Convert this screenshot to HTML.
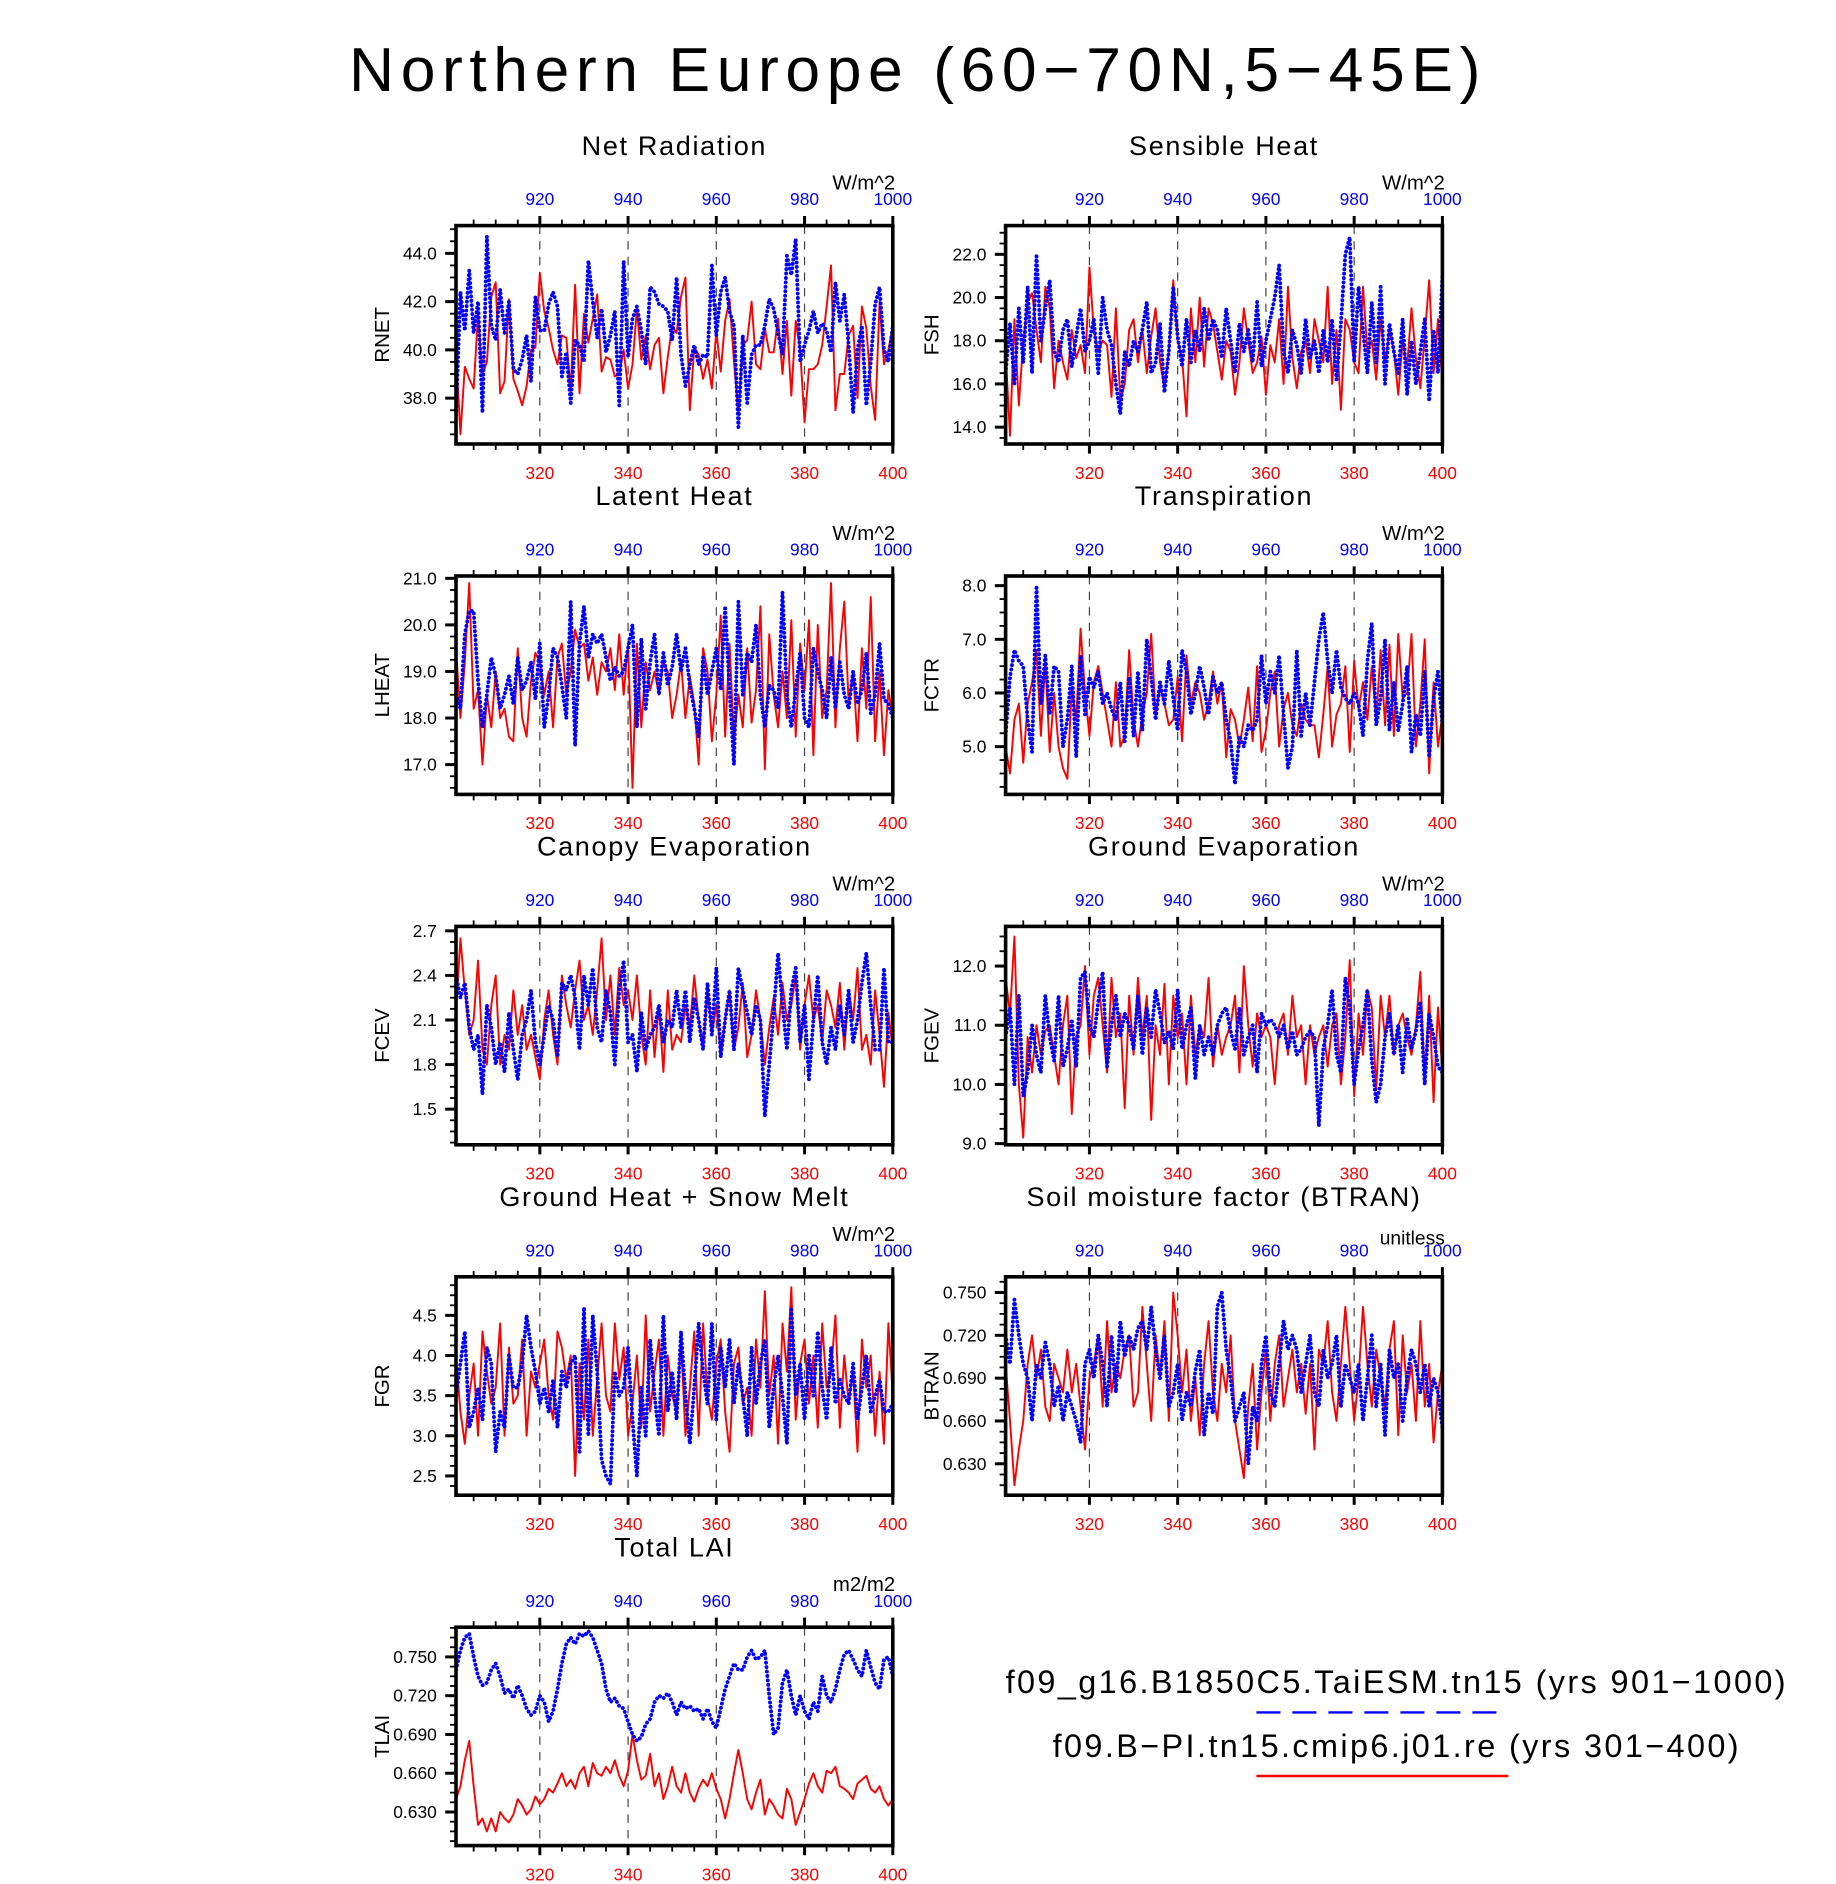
<!DOCTYPE html>
<html><head><meta charset="utf-8"><style>
html,body{margin:0;padding:0;background:#fff}
svg{display:block}
text{font-family:"Liberation Sans",sans-serif}
</style></head><body>
<svg id="fig" width="1836" height="1884" viewBox="0 0 1530 1570" xmlns="http://www.w3.org/2000/svg">
<text x="765" y="76" text-anchor="middle" font-size="52" fill="#000" letter-spacing="5.5">Northern Europe (60−70N,5−45E)</text>
<g>
<text x="1164" y="1411" text-anchor="middle" font-size="27" letter-spacing="2">f09_g16.B1850C5.TaiESM.tn15 (yrs 901−1000)</text>
<line x1="1047" y1="1427" x2="1257" y2="1427" stroke="#0000ff" stroke-width="2" stroke-dasharray="20 10"/>
<text x="1164" y="1464" text-anchor="middle" font-size="27" letter-spacing="2">f09.B−PI.tn15.cmip6.j01.re (yrs 301−400)</text>
<line x1="1047" y1="1480" x2="1257" y2="1480" stroke="#ff0000" stroke-width="2"/>
</g>
</svg>
<script>
// ---- data (years 301-400 red, 901-1000 blue) ----
const redYears = [301, 400];
const blueYears = [901, 1000];
const bottomTickLabels = ["320","340","360","380","400"];
const topTickLabels = ["920","940","960","980","1000"];

const rnetRed = [40.0,36.5,39.3,38.8,38.4,41.5,39.0,39.5,42.2,42.8, 38.2,38.7,42.1,38.8,38.3,37.7,38.5,40.0,40.1,43.2, 41.6,40.9,40.0,39.4,40.6,40.5,38.3,42.7,38.2,41.5, 40.3,41.3,42.3,39.1,39.7,39.6,38.9,39.0,40.0,38.4, 39.4,41.7,39.6,40.6,39.2,40.2,40.5,38.2,39.7,41.0, 40.7,42.2,43.0,37.5,40.1,39.8,38.8,39.6,38.4,40.8, 39.1,41.2,42.1,39.5,37.4,40.2,40.4,42.0,39.4,39.2, 40.9,39.9,39.9,41.3,39.0,41.2,38.1,41.2,40.0,37.0, 39.2,39.2,39.4,40.2,41.8,43.5,37.5,39.0,39.0,40.6, 41.0,38.0,41.8,40.9,38.5,37.1,42.0,39.4,40.0,41.0];
const rnetBlue = [37.3,42.4,40.8,43.3,40.7,42.0,37.4,44.7,41.0,40.4, 42.5,40.7,42.0,39.2,39.0,39.6,40.6,38.7,42.2,40.8, 40.8,41.9,42.4,41.8,38.9,39.9,37.8,40.4,40.2,39.5, 43.7,42.0,40.5,41.7,39.9,40.6,41.6,37.7,43.7,39.7, 41.3,41.8,40.8,39.4,42.6,42.4,41.9,41.8,41.6,40.4, 43.0,39.8,38.5,39.4,40.2,39.4,39.8,39.7,43.5,40.6, 42.4,43.0,41.6,41.0,36.8,40.6,37.8,39.8,40.2,40.2, 41.0,42.1,41.7,40.7,39.8,43.9,43.1,44.6,39.5,40.2, 40.8,41.6,40.7,41.1,40.8,39.9,42.8,41.2,42.3,40.2, 37.4,40.0,41.0,37.7,39.5,41.9,42.6,40.0,39.5,41.0];
const fshRed = [17.5,13.6,19.0,15.0,18.0,19.8,20.2,18.5,17.0,20.5, 19.5,15.8,18.0,17.0,16.2,18.5,17.2,17.8,16.5,21.4, 18.5,17.5,18.0,17.8,15.4,19.5,15.2,16.0,18.5,19.0, 17.0,18.5,16.5,18.2,19.5,17.0,15.8,17.5,20.8,18.0, 17.2,14.5,19.5,17.0,20.0,16.8,19.5,18.8,17.5,16.2, 18.0,17.5,15.5,17.0,19.5,18.0,16.5,17.0,18.2,15.5, 17.8,17.0,19.0,16.0,20.5,17.2,15.8,17.5,18.0,16.5, 19.0,18.0,17.0,20.5,16.0,18.5,14.8,19.0,18.5,17.0, 16.5,20.5,17.5,18.0,16.2,19.0,17.0,18.5,17.5,15.5, 18.0,16.8,19.5,17.2,15.8,18.2,20.8,16.5,19.0,16.0];
const fshBlue = [16.5,18.8,16.0,19.5,17.0,20.5,16.5,22.0,18.0,19.5, 20.8,17.5,17.0,18.5,19.0,16.8,18.2,19.5,17.5,18.0, 19.0,16.5,20.0,18.5,17.8,16.0,14.6,17.5,16.8,18.0, 17.5,18.5,19.8,16.5,17.0,18.8,15.6,17.5,20.5,18.2, 16.8,19.0,17.0,18.5,17.5,19.5,18.0,19.0,18.5,17.2, 19.5,18.0,16.5,18.8,17.5,18.5,17.0,19.8,16.8,18.0, 19.0,20.0,21.5,17.5,16.5,18.5,17.8,16.5,19.0,17.2, 18.0,16.5,18.5,17.0,19.0,16.2,18.8,22.0,22.8,17.0, 20.5,18.5,16.5,19.8,17.0,20.5,16.0,18.8,17.5,16.5, 19.0,15.5,18.0,16.0,17.5,19.0,15.2,18.5,16.5,21.0];
const lheatRed = [19.5,18.0,19.2,20.9,18.2,18.6,17.0,18.5,17.8,19.0, 18.0,18.2,17.6,17.5,19.5,18.0,17.6,18.8,19.4,19.2, 18.5,19.0,17.8,19.3,19.6,18.5,19.0,19.9,19.5,19.6, 18.8,19.3,18.5,19.2,19.0,19.5,18.6,19.8,18.5,19.6, 16.5,19.6,17.8,19.2,18.6,19.0,18.5,19.2,19.0,18.0, 18.5,19.2,18.0,18.9,18.3,17.0,19.5,19.0,17.5,18.5, 20.2,17.6,19.6,17.5,18.5,17.8,19.5,17.9,18.6,20.4, 16.9,19.8,18.5,17.8,19.0,18.0,20.1,17.6,19.6,18.6, 20.1,17.2,20.0,18.0,18.6,20.9,17.8,19.5,20.5,18.3, 19.0,17.5,19.5,18.2,20.6,17.5,19.0,17.2,18.6,18.0];
const lheatBlue = [18.5,18.2,19.8,20.3,20.3,18.8,17.8,18.5,19.3,18.9, 18.2,18.5,18.9,18.3,19.3,18.6,18.8,19.2,18.4,19.6, 17.8,18.5,19.5,19.3,18.7,18.0,20.5,17.4,19.6,20.4, 19.3,19.8,19.6,19.8,19.3,18.8,19.1,18.9,19.0,19.5, 20.0,17.8,19.7,18.2,19.2,19.8,18.5,19.4,18.7,19.1, 19.8,19.0,19.5,18.7,18.2,17.6,19.3,18.5,19.0,19.5, 18.6,20.4,18.6,17.0,20.5,18.5,19.4,19.2,20.0,18.5, 17.8,18.7,18.6,18.2,20.7,18.5,17.8,18.6,19.4,18.0, 17.8,19.5,19.0,18.6,18.0,19.3,18.2,19.2,18.5,18.2, 19.0,18.3,18.6,19.4,18.1,18.5,19.6,18.4,18.3,18.0];
const fctrRed = [5.0,4.5,5.5,5.8,4.7,5.8,6.2,6.8,5.2,6.6, 4.9,6.0,5.0,4.6,4.4,6.1,5.5,7.2,6.0,5.2, 6.2,6.5,6.0,5.5,5.0,6.2,5.0,5.2,6.8,5.5, 5.0,5.6,6.0,7.1,5.6,6.1,5.8,5.4,5.5,6.3, 5.1,6.7,5.8,6.2,6.0,5.5,5.8,6.4,5.8,6.2, 4.8,5.7,5.5,5.0,5.5,6.1,5.1,6.5,4.9,5.3, 6.0,6.4,5.0,5.7,6.0,5.4,5.2,5.8,5.5,5.4, 5.4,4.8,5.6,6.5,5.0,5.6,5.8,6.5,4.9,6.6, 5.7,6.2,5.5,6.5,5.5,6.8,5.4,6.9,5.2,7.1, 5.9,6.0,7.1,5.0,5.8,7.0,4.5,6.2,5.0,5.6];
const fctrBlue = [5.2,6.3,6.8,6.6,6.5,5.5,4.9,8.0,5.8,6.7, 5.6,6.5,6.4,5.0,5.5,6.5,4.8,6.7,5.6,6.3, 6.1,6.4,5.8,6.0,5.7,5.5,6.2,5.1,6.3,5.2, 6.4,5.3,7.0,6.3,5.5,6.2,5.8,6.6,5.9,5.3, 6.8,6.4,5.6,6.0,6.5,6.1,5.6,6.3,6.0,6.2, 5.5,5.1,4.3,5.2,5.0,5.4,5.3,5.5,6.7,5.8, 6.4,6.0,6.7,5.6,4.6,5.0,6.8,5.2,6.0,5.4, 6.2,7.0,7.5,6.6,6.0,6.8,6.1,5.9,5.8,6.0, 5.8,5.2,6.6,7.3,5.4,5.9,7.0,5.3,6.2,5.3, 5.8,6.5,4.9,5.6,5.2,6.4,4.8,5.9,6.4,5.4];
const fcevRed = [2.15,2.65,2.3,2.0,2.1,2.5,1.9,1.8,2.2,2.4, 1.8,2.0,1.9,2.3,2.0,2.2,1.9,2.0,1.85,1.7, 2.1,2.3,2.0,1.8,2.4,2.2,2.05,2.3,2.5,2.1, 2.2,2.0,2.3,2.65,2.1,2.4,2.0,2.45,2.2,2.3, 2.1,2.4,2.0,1.8,2.3,1.85,2.2,1.75,2.3,1.9, 2.0,1.95,2.2,2.05,2.4,2.1,1.9,2.3,2.0,2.2, 1.85,2.1,2.3,1.9,2.05,2.35,1.85,2.0,2.3,2.1, 1.8,2.05,2.25,2.0,2.35,2.1,2.2,2.4,1.9,2.2, 2.4,2.1,2.2,1.95,2.3,2.2,2.05,2.35,1.9,2.3, 2.1,2.45,1.9,2.0,1.8,2.3,2.0,1.65,2.15,1.9];
const fcevBlue = [2.4,2.25,2.35,2.05,1.9,2.0,1.6,2.2,2.05,1.8, 1.95,1.75,2.15,1.9,1.7,2.0,2.1,2.3,1.95,1.8, 2.0,2.2,2.1,1.85,2.35,2.3,2.4,2.25,1.9,2.4, 2.2,2.45,2.05,1.95,2.3,2.15,1.8,2.3,2.5,1.95, 2.0,1.75,2.15,1.9,2.0,2.05,2.2,1.95,2.1,2.05, 2.3,2.05,2.3,1.95,2.25,2.1,1.9,2.35,2.0,2.45, 1.85,2.1,2.3,1.9,2.45,2.3,2.15,2.0,2.2,2.1, 1.45,1.8,2.15,2.55,2.2,1.9,2.3,2.45,1.95,2.2, 1.7,2.1,2.4,1.95,1.8,2.05,1.9,2.2,2.0,2.3, 1.95,2.1,2.35,2.55,2.2,1.9,1.9,2.45,1.95,1.95];
const fgevRed = [11.8,11.2,12.5,10.0,9.1,10.8,10.2,11.0,10.5,10.9, 11.0,10.5,10.0,11.0,11.5,9.5,10.8,11.0,12.0,10.5, 11.5,11.8,11.0,10.2,11.8,10.8,11.2,9.6,11.5,10.5, 11.8,10.8,11.5,9.4,11.0,10.5,11.7,10.0,11.5,10.8, 11.2,10.0,11.5,10.5,11.0,10.8,11.8,10.3,11.0,10.5, 10.8,11.0,11.5,10.2,12.0,11.0,10.3,11.2,10.8,11.0, 10.8,10.0,11.0,11.2,10.5,11.5,10.8,11.0,10.0,11.0, 10.5,10.8,11.0,10.3,11.0,11.2,10.0,10.8,12.1,9.8, 11.2,10.5,11.6,11.3,9.9,11.5,10.8,11.5,10.5,11.0, 11.2,10.8,10.5,11.0,11.9,10.0,11.5,9.7,11.3,10.2];
const fgevBlue = [10.8,11.3,10.0,11.5,9.8,10.2,11.0,10.5,10.2,11.5, 10.8,10.4,11.5,10.3,10.6,11.1,10.3,11.8,11.9,11.0, 10.8,11.4,11.9,10.3,11.0,11.5,10.8,11.2,11.0,10.6, 11.5,10.5,11.3,10.8,11.6,11.2,10.7,10.9,10.6,11.6, 10.6,11.0,11.3,10.1,11.0,10.5,10.8,10.5,11.0,11.2, 11.3,10.9,10.6,11.3,10.5,10.8,11.0,10.2,11.2,11.0, 11.1,11.0,10.8,11.0,10.6,10.9,10.5,10.6,10.8,10.9, 10.8,9.3,10.6,11.0,11.6,10.5,10.2,11.8,11.3,10.0, 10.6,11.0,11.6,10.4,9.7,10.0,10.8,11.2,10.5,11.0, 10.2,11.1,10.6,10.9,11.4,10.0,11.2,10.8,10.3,10.2];
const fgrRed = [4.0,3.3,2.9,3.5,3.9,3.0,4.3,3.8,3.4,3.6, 4.4,3.0,4.1,3.4,3.5,4.2,3.0,3.8,3.6,3.9, 4.2,3.5,3.2,4.3,4.1,3.7,4.0,2.5,3.9,3.2, 4.2,3.0,3.7,4.4,3.5,3.3,4.4,3.7,4.1,3.0, 3.4,4.0,3.1,4.5,3.3,3.8,4.2,3.0,4.0,3.5, 3.3,4.2,3.0,3.6,4.3,3.0,4.4,3.5,3.2,3.9, 4.2,3.3,2.8,3.9,4.1,3.4,3.6,3.0,4.2,3.6, 4.8,3.5,4.0,2.9,4.4,3.8,4.85,3.2,3.9,4.2, 3.4,4.0,3.1,4.4,3.6,3.8,4.5,3.1,4.0,3.4, 3.8,2.8,4.2,3.6,4.0,3.0,3.8,2.9,4.4,3.5];
const fgrBlue = [3.5,3.9,4.3,3.1,3.3,3.6,3.2,4.1,3.9,2.8, 3.3,3.1,4.0,3.6,3.6,3.9,4.5,4.1,3.8,3.4, 3.6,3.3,3.7,3.1,3.8,3.6,3.9,4.0,2.8,4.6, 3.0,4.5,3.8,2.7,2.5,2.4,3.8,3.5,3.6,4.1, 3.2,2.5,3.6,3.0,4.2,3.5,3.0,4.5,3.3,3.8, 3.2,4.3,3.5,2.9,3.6,4.4,3.8,3.4,4.4,3.2, 4.1,3.6,4.2,3.4,3.9,3.5,3.0,4.1,3.4,3.9, 4.2,3.1,3.6,4.0,3.5,2.9,4.6,3.5,3.9,3.2, 4.0,3.5,4.3,3.6,3.2,4.1,3.4,3.7,3.5,3.4, 3.9,3.2,3.6,4.0,3.3,3.5,3.7,3.3,3.3,3.4];
const btranRed = [0.70,0.66,0.615,0.64,0.66,0.70,0.72,0.69,0.71,0.67, 0.66,0.70,0.69,0.68,0.71,0.68,0.70,0.67,0.64,0.69, 0.70,0.72,0.67,0.73,0.68,0.70,0.69,0.71,0.72,0.67, 0.68,0.74,0.70,0.66,0.72,0.69,0.73,0.66,0.75,0.72, 0.68,0.71,0.66,0.69,0.65,0.70,0.73,0.68,0.66,0.70, 0.68,0.72,0.66,0.64,0.62,0.67,0.70,0.64,0.68,0.71, 0.66,0.70,0.72,0.67,0.69,0.71,0.68,0.70,0.665,0.70, 0.64,0.71,0.70,0.73,0.68,0.66,0.70,0.74,0.70,0.66, 0.69,0.74,0.70,0.67,0.71,0.69,0.67,0.71,0.73,0.65, 0.72,0.68,0.70,0.66,0.73,0.67,0.70,0.645,0.68,0.70];
const btranBlue = [0.72,0.70,0.745,0.72,0.70,0.69,0.66,0.70,0.69,0.715, 0.70,0.67,0.685,0.66,0.68,0.67,0.66,0.645,0.70,0.71, 0.69,0.72,0.70,0.67,0.72,0.68,0.73,0.705,0.72,0.71, 0.725,0.73,0.71,0.74,0.71,0.69,0.72,0.67,0.68,0.70, 0.66,0.68,0.67,0.695,0.71,0.65,0.68,0.665,0.74,0.75, 0.71,0.69,0.66,0.67,0.68,0.63,0.67,0.66,0.70,0.72, 0.68,0.67,0.70,0.73,0.71,0.72,0.71,0.68,0.70,0.72, 0.68,0.67,0.71,0.69,0.70,0.72,0.67,0.70,0.69,0.68, 0.70,0.66,0.69,0.72,0.67,0.70,0.65,0.71,0.69,0.70, 0.66,0.69,0.71,0.70,0.68,0.70,0.67,0.69,0.68,0.655];
const tlaiRed = [0.640,0.650,0.670,0.685,0.650,0.620,0.625,0.615,0.625,0.615, 0.630,0.625,0.622,0.628,0.640,0.635,0.628,0.632,0.642,0.636, 0.640,0.648,0.645,0.652,0.660,0.650,0.655,0.648,0.660,0.665, 0.650,0.668,0.660,0.658,0.665,0.660,0.670,0.658,0.650,0.662, 0.690,0.670,0.655,0.658,0.675,0.650,0.660,0.640,0.650,0.665, 0.650,0.645,0.660,0.645,0.638,0.648,0.655,0.650,0.660,0.648, 0.640,0.625,0.640,0.660,0.678,0.660,0.640,0.632,0.645,0.655, 0.628,0.640,0.635,0.628,0.625,0.648,0.640,0.620,0.630,0.640, 0.652,0.660,0.650,0.645,0.662,0.660,0.665,0.650,0.648,0.645, 0.640,0.652,0.655,0.658,0.648,0.645,0.650,0.640,0.635,0.640];
const tlaiBlue = [0.740,0.755,0.765,0.768,0.750,0.735,0.728,0.730,0.740,0.745, 0.735,0.722,0.725,0.718,0.728,0.720,0.710,0.705,0.708,0.720, 0.715,0.700,0.708,0.725,0.745,0.760,0.765,0.760,0.768,0.766, 0.770,0.765,0.755,0.745,0.725,0.715,0.718,0.712,0.710,0.700, 0.690,0.685,0.688,0.698,0.702,0.715,0.720,0.718,0.722,0.715, 0.705,0.715,0.710,0.712,0.708,0.710,0.702,0.710,0.700,0.695, 0.710,0.725,0.735,0.745,0.740,0.740,0.750,0.755,0.748,0.750, 0.755,0.720,0.690,0.695,0.730,0.740,0.720,0.705,0.720,0.708, 0.702,0.715,0.708,0.735,0.720,0.715,0.725,0.740,0.752,0.755, 0.748,0.740,0.735,0.755,0.742,0.730,0.725,0.748,0.750,0.735];

const rnetTicks = [38,40,42,44];
const fshTicks = [14,16,18,20,22];
const lheatTicks = [17,18,19,20,21];
const fctrTicks = [5,6,7,8];
const fcevTicks = [1.5,1.8,2.1,2.4,2.7];
const fgevTicks = [9,10,11,12];
const fgrTicks = [2.5,3,3.5,4,4.5];
const btranTicks = [0.63,0.66,0.69,0.72,0.75];
const tlaiTicks = [0.63,0.66,0.69,0.72,0.75];

const panels = [
 {id:"rnet",title:"Net Radiation",yl:"RNET",x0:380,y0:188,ymin:36.1,ymax:45.15,ticks:rnetTicks,dec:1,unit:"W/m^2",red:rnetRed,blue:rnetBlue},
 {id:"fsh",title:"Sensible Heat",yl:"FSH",x0:838,y0:188,ymin:13.22,ymax:23.33,ticks:fshTicks,dec:1,unit:"W/m^2",red:fshRed,blue:fshBlue},
 {id:"lheat",title:"Latent Heat",yl:"LHEAT",x0:380,y0:480,ymin:16.36,ymax:21.05,ticks:lheatTicks,dec:1,unit:"W/m^2",red:lheatRed,blue:lheatBlue},
 {id:"fctr",title:"Transpiration",yl:"FCTR",x0:838,y0:480,ymin:4.11,ymax:8.18,ticks:fctrTicks,dec:1,unit:"W/m^2",red:fctrRed,blue:fctrBlue},
 {id:"fcev",title:"Canopy Evaporation",yl:"FCEV",x0:380,y0:772,ymin:1.26,ymax:2.73,ticks:fcevTicks,dec:1,unit:"W/m^2",red:fcevRed,blue:fcevBlue},
 {id:"fgev",title:"Ground Evaporation",yl:"FGEV",x0:838,y0:772,ymin:8.98,ymax:12.67,ticks:fgevTicks,dec:1,unit:"W/m^2",red:fgevRed,blue:fgevBlue},
 {id:"fgr",title:"Ground Heat + Snow Melt",yl:"FGR",x0:380,y0:1064,ymin:2.26,ymax:4.98,ticks:fgrTicks,dec:1,unit:"W/m^2",red:fgrRed,blue:fgrBlue},
 {id:"btran",title:"Soil moisture factor (BTRAN)",yl:"BTRAN",x0:838,y0:1064,ymin:0.608,ymax:0.761,ticks:btranTicks,dec:3,unit:"unitless",red:btranRed,blue:btranBlue},
 {id:"tlai",title:"Total LAI",yl:"TLAI",x0:380,y0:1356,ymin:0.604,ymax:0.773,ticks:tlaiTicks,dec:3,unit:"m2/m2",red:tlaiRed,blue:tlaiBlue}
];

const NS="http://www.w3.org/2000/svg";
const svg=document.getElementById("fig");
const W=364,H=182;
function mk(tag,parent,attrs){const e=document.createElementNS(NS,tag);for(const k in attrs)e.setAttribute(k,attrs[k]);parent.appendChild(e);return e;}

panels.forEach(p=>{
  const g=mk("g",svg,{});
  
  
  const xr=yr=>p.x0+(yr-redYears[0])/(redYears[1]-redYears[0])*W;
  const xb=yr=>p.x0+(yr-blueYears[0])/(blueYears[1]-blueYears[0])*W;
  const ys=v=>p.y0+H-(v-p.ymin)/(p.ymax-p.ymin)*H;
  const t=mk("text",g,{x:p.x0+W/2,y:p.y0-59,"text-anchor":"middle","font-size":"22.5","letter-spacing":"1.4"});t.textContent=p.title;
  
  
  const u=mk("text",g,{x:p.x0+W+2,y:p.id==="btran"?p.y0-27:p.y0-30,"text-anchor":"end","font-size":p.id==="btran"?"16":"17"});u.textContent=p.unit;
  
  
  [320,340,360,380].forEach(yr=>{
    const l=mk("line",g,{x1:xr(yr),x2:xr(yr),y1:p.y0,y2:p.y0+H,stroke:"#444","stroke-width":"1","stroke-dasharray":"7 6"});
    
    
  });
  for(let yr=305;yr<=400;yr+=5){
    const major=yr%20===0;const len=major?8:5;const x=xr(yr);
    mk("line",g,{x1:x,x2:x,y1:p.y0+H,y2:p.y0+H+len,stroke:"#000","stroke-width":major?2.5:1.5});
    mk("line",g,{x1:x,x2:x,y1:p.y0,y2:p.y0-len,stroke:"#000","stroke-width":major?2.5:1.5});
  }
  bottomTickLabels.forEach(s=>{
    const tl=mk("text",g,{x:xr(+s),y:p.y0+H+29,"text-anchor":"middle","font-size":"14.5",fill:"#ff0000"});tl.textContent=s;
    
    
  });
  topTickLabels.forEach(s=>{
    const tl=mk("text",g,{x:xb(+s),y:p.y0-17,"text-anchor":"middle","font-size":"14.5",fill:"#0000ff"});tl.textContent=s;
    
    
  });
  const step=p.ticks[1]-p.ticks[0];const ms=step/4;
  for(let v=p.ticks[0]-8*ms;v<=p.ymax+1e-9;v+=ms){
    if(v<p.ymin-1e-9)continue;
    const y=ys(v);
    mk("line",g,{x1:p.x0,x2:p.x0-5,y1:y,y2:y,stroke:"#000","stroke-width":1.5});
  }
  p.ticks.forEach(v=>{
    const y=ys(v);
    mk("line",g,{x1:p.x0,x2:p.x0-9,y1:y,y2:y,stroke:"#000","stroke-width":2.5});
    const tl=mk("text",g,{x:p.x0-16,y:y+5,"text-anchor":"end","font-size":"14.5"});tl.textContent=v.toFixed(p.dec);
    
    
  });
  const cy=p.y0+H/2, cx=p.x0-56;
  const yt=mk("text",g,{x:cx,y:cy,"text-anchor":"middle","font-size":"17",transform:`rotate(-90 ${cx} ${cy})`});yt.textContent=p.yl;
  
  
  const clip=mk("clipPath",g,{id:"c"+p.id});mk("rect",clip,{x:p.x0,y:p.y0,width:W,height:H});
  const pr=p.red.map((v,i)=>xr(redYears[0]+i).toFixed(2)+","+ys(v).toFixed(2)).join(" ");
  const rl=mk("polyline",g,{points:pr,fill:"none",stroke:"#ff0000","stroke-width":"1.6","stroke-linejoin":"round","clip-path":`url(#c${p.id})`});
  
  
  const pb=p.blue.map((v,i)=>xb(blueYears[0]+i).toFixed(2)+","+ys(v).toFixed(2)).join(" ");
  const bl=mk("polyline",g,{points:pb,fill:"none",stroke:"#0000ff","stroke-width":"3.2","stroke-dasharray":"0.1 3.6","stroke-linecap":"round","stroke-linejoin":"round","clip-path":`url(#c${p.id})`});
  
  
  const fr=mk("rect",g,{x:p.x0,y:p.y0,width:W,height:H,fill:"none",stroke:"#000","stroke-width":"3"});
  
  
});
</script>
</body></html>
